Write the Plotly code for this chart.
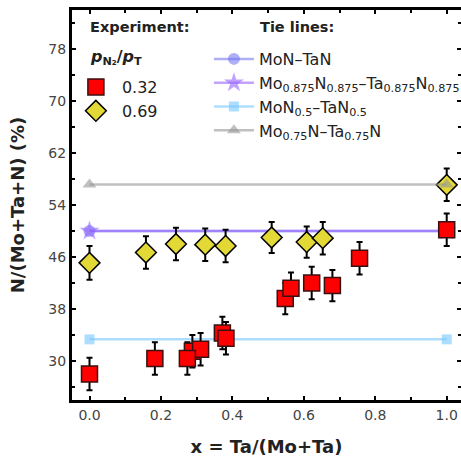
import plotly.graph_objects as go

# ---- data ----
red_x = [0.0, 0.183, 0.288, 0.311, 0.274, 0.372, 0.382, 0.548, 0.564, 0.622, 0.680, 0.756, 1.0]
red_y = [28.0, 30.4, 31.5, 31.8, 30.4, 34.3, 33.5, 39.6, 41.2, 42.0, 41.6, 45.8, 50.2]
red_err = [2.5, 2.5, 2.5, 2.5, 2.5, 2.5, 2.5, 2.4, 2.4, 2.5, 2.4, 2.5, 2.5]

yel_x = [0.0, 0.158, 0.242, 0.324, 0.381, 0.510, 0.608, 0.653, 1.0]
yel_y = [45.1, 46.7, 48.0, 47.9, 47.7, 49.0, 48.3, 48.9, 57.1]
yel_err = [2.6, 2.5, 2.5, 2.5, 2.5, 2.4, 2.4, 2.5, 2.5]

tie_x = [0.0, 1.0]
tie_names = ["MoN–TaN",
             "Mo<sub>0.875</sub>N<sub>0.875</sub>–Ta<sub>0.875</sub>N<sub>0.875</sub>",
             "MoN<sub>0.5</sub>–TaN<sub>0.5</sub>",
             "Mo<sub>0.75</sub>N–Ta<sub>0.75</sub>N"]
tie_y = [50.0, 50.0, 33.33, 57.14]
tie_colors = ["rgba(110,110,240,0.55)", "rgba(150,100,255,0.6)",
              "rgba(120,200,255,0.6)", "rgba(150,150,150,0.6)"]
tie_symbols = ["circle", "star", "square", "triangle-up"]
tie_sizes = [12, 15, 10, 12]
tie_yaxes = ["y", "y", "y", "y2"]

FONT = "DejaVu Sans"

fig = go.Figure()

def add_tie(name, yv, col, sym, sz, ya):
    fig.add_trace(go.Scatter(
        x=tie_x, y=[yv, yv], mode="lines+markers", name=name,
        line=dict(color=col, width=2.5),
        marker=dict(symbol=sym, size=sz, color=col, line=dict(width=0)),
        legend="legend2", yaxis=ya))

for args in zip(tie_names, tie_y, tie_colors, tie_symbols, tie_sizes, tie_yaxes):
    if args[-1] == "y":
        add_tie(*args)

fig.add_trace(go.Scatter(
    x=red_x, y=red_y, mode="markers", name="0.32",
    marker=dict(symbol="square", size=16, color="#ff0000",
                line=dict(color="#3a1010", width=1.5)),
    error_y=dict(type="data", array=red_err, color="black", thickness=2, width=3),
    legend="legend"))

fig.add_trace(go.Scatter(
    x=yel_x, y=yel_y, mode="markers", name="0.69",
    marker=dict(symbol="diamond", size=16, color="#e3d936",
                line=dict(color="black", width=1.5)),
    error_y=dict(type="data", array=yel_err, color="black", thickness=2, width=3),
    legend="legend"))

for args in zip(tie_names, tie_y, tie_colors, tie_symbols, tie_sizes, tie_yaxes):
    if args[-1] == "y2":
        add_tie(*args)

tickfont = dict(family=FONT, size=14, color="#444")

fig.update_layout(
    xaxis=dict(range=[-0.049, 1.04], tickmode="linear", tick0=0, dtick=0.2,
               tickformat=".1f", mirror="ticks", showgrid=False, zeroline=False,
               ticks="inside", tickcolor="black", tickwidth=2, ticklen=4,
               showline=True, linecolor="black", linewidth=3, tickfont=tickfont,
               minor=dict(ticks="inside", dtick=0.1, ticklen=3, tickwidth=2, tickcolor="black"),
               title=dict(text="<b>x = Ta/(Mo+Ta)</b>",
                          font=dict(family=FONT, size=18, color="#222"), standoff=19)),
    yaxis=dict(range=[24, 84], tickmode="linear", tick0=30, dtick=8,
               mirror=False, showgrid=False, zeroline=False,
               ticks="inside", tickcolor="black", tickwidth=2, ticklen=4,
               showline=True, linecolor="black", linewidth=3, tickfont=tickfont,
               minor=dict(ticks="inside", tick0=26, dtick=8, ticklen=3, tickwidth=2, tickcolor="black"),
               title=dict(text="<b>N/(Mo+Ta+N) (%)</b>",
                          font=dict(family=FONT, size=18, color="#222"), standoff=20)),
    yaxis2=dict(overlaying="y", side="right", range=[24, 84], tickmode="linear",
                tick0=30, dtick=8, ticks="inside", ticklen=4, tickwidth=2, tickcolor="black",
                showticklabels=False, showline=False, mirror=False,
                showgrid=False, zeroline=False,
                minor=dict(ticks="inside", tick0=26, dtick=8, ticklen=3, tickwidth=2, tickcolor="black")),
    width=461, height=462,
    margin=dict(l=72, r=0, t=10, b=62, autoexpand=False),
    plot_bgcolor="white", paper_bgcolor="white",
    font=dict(family=FONT, color="#222"),
    legend=dict(x=-0.0054, y=0.846, xanchor="left", yanchor="top", itemwidth=42,
                bgcolor="rgba(0,0,0,0)", font=dict(family=FONT, size=16, color="#222"),
                traceorder="normal"),
    legend2=dict(x=0.352, y=0.918, xanchor="left", yanchor="top", itemwidth=40,
                 bgcolor="rgba(0,0,0,0)", font=dict(family=FONT, size=16, color="#222"),
                 traceorder="normal"),
    annotations=[
        dict(text="<b>Experiment:</b>", x=0.041, y=0.956, xref="paper", yref="paper",
             xanchor="left", yanchor="middle", showarrow=False,
             font=dict(family=FONT, size=14.5, color="#222")),
        dict(text="<b><i>p</i><sub>N₂</sub>/<i>p</i><sub>T</sub></b>", x=0.041, y=0.879,
             xref="paper", yref="paper", xanchor="left", yanchor="middle", showarrow=False,
             font=dict(family=FONT, size=16, color="#222")),
        dict(text="<b>Tie lines:</b>", x=0.478, y=0.956, xref="paper", yref="paper",
             xanchor="left", yanchor="middle", showarrow=False,
             font=dict(family=FONT, size=14.5, color="#222")),
    ],
)

fig.write_html("out.html")
